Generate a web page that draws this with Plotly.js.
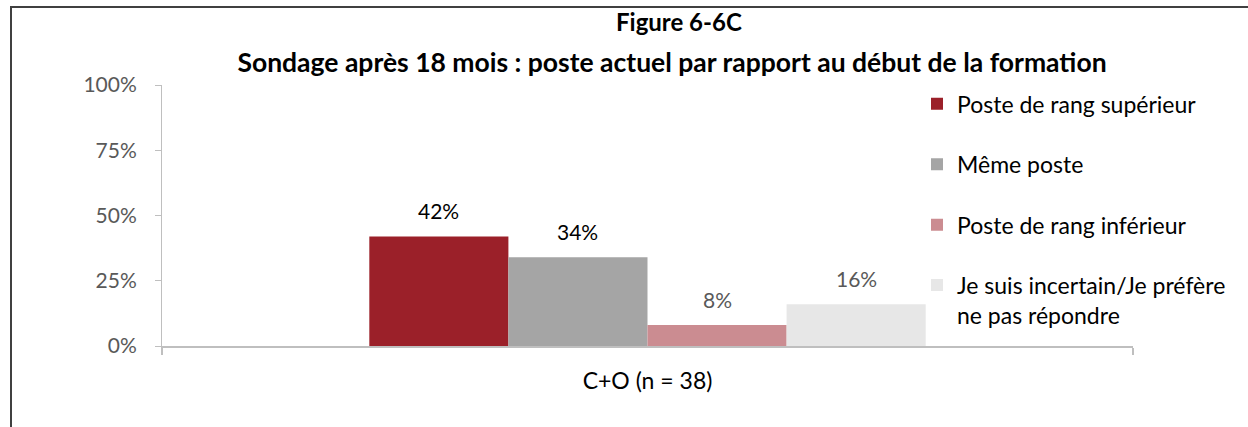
<!DOCTYPE html>
<html>
<head>
<meta charset="utf-8">
<script src="https://cdn.plot.ly/plotly-3.0.1.min.js"></script>
<style>
  html, body { margin: 0; padding: 0; background: #fff; }
  #wrap { position: relative; width: 1248px; height: 427px; overflow: hidden; }
  #chart { width: 1248px; height: 427px; }
  #frame { position: absolute; left: 10px; top: 6px; width: 1300px; height: 500px;
           border-left: 2px solid #404040; border-top: 2px solid #404040; pointer-events: none; }
</style>
</head>
<body>
<div id="wrap">
  <div id="chart"></div>
  <div id="frame"></div>
</div>
<script>
const categories = ['C+O (n = 38)'];
const seriesNames = [
  'Poste de rang supérieur',
  'Même poste',
  'Poste de rang inférieur',
  'Je suis incertain/Je préfère<br>ne pas répondre'
];
const seriesValues = [0.42, 0.34, 0.08, 0.16];
const seriesColors = ['#9B2029', '#A5A5A5', '#CB8C91', '#E7E7E7'];
const labelColors = ['#000000', '#000000', '#595959', '#595959'];
const yTickVals = [0, 0.25, 0.5, 0.75, 1];
const yTickText = ['0%', '25%', '50%', '75%', '100%'];
const titleLine1 = 'Figure 6-6C';
const titleLine2 = 'Sondage après 18 mois : poste actuel par rapport au début de la formation';

const FONT = 'Lato, "Open Sans", sans-serif';

const MARGIN = { l: 162, r: 115, t: 85, b: 81 };
const W = 1248, H = 427;
const BARGAP = 0.427;
const plotW = W - MARGIN.l - MARGIN.r;
const plotH = H - MARGIN.t - MARGIN.b;
const nSeries = seriesValues.length;
const barPx = plotW / categories.length * (1 - BARGAP) / nSeries;

const traces = seriesNames.map((name, i) => ({
  type: 'bar',
  name: name,
  x: categories,
  y: [seriesValues[i]],
  marker: { color: seriesColors[i] },
  legendgroup: 'g' + i,
  hoverinfo: 'none'
}));

// data labels placed above each bar, derived from the data arrays
const labelAnnotations = seriesValues.map((v, i) => ({
  text: Math.round(v * 100) + '%',
  xref: 'x', yref: 'y',
  x: categories[0], y: v,
  xshift: (i - (nSeries - 1) / 2) * barPx,
  yshift: 26,
  xanchor: 'center', yanchor: 'middle',
  showarrow: false,
  font: { family: FONT, size: 21, color: labelColors[i] }
}));

const layout = {
  width: W,
  height: H,
  paper_bgcolor: '#ffffff',
  plot_bgcolor: '#ffffff',
  font: { family: FONT, size: 18, color: '#595959' },
  margin: { l: MARGIN.l, r: MARGIN.r, t: MARGIN.t, b: MARGIN.b, pad: 0 },
  barmode: 'group',
  bargap: BARGAP,
  bargroupgap: 0,
  title: {
    text: titleLine2,
    font: { family: FONT, size: 26.5, color: '#000000', weight: 'bold' },
    xref: 'container', x: 672 / W, xanchor: 'center',
    yref: 'container', y: 1 - 63 / H, yanchor: 'middle'
  },
  annotations: [{
    text: titleLine1,
    xref: 'paper', yref: 'paper',
    x: (679 - MARGIN.l) / plotW, y: 1 + (MARGIN.t - 22) / plotH,
    xanchor: 'center', yanchor: 'middle',
    showarrow: false,
    font: { family: FONT, size: 24, color: '#000000', weight: 'bold' }
  }].concat(labelAnnotations),
  xaxis: {
    type: 'category',
    showline: true, linecolor: '#BFBFBF', linewidth: 2,
    ticks: 'outside', tickson: 'boundaries', ticklen: 7, tickcolor: '#BFBFBF', tickwidth: 2,
    tickfont: { family: FONT, size: 23, color: '#000000' },
    ticklabelstandoff: 13,
    showgrid: false, zeroline: false,
    fixedrange: true
  },
  yaxis: {
    range: [0, 1],
    tickvals: yTickVals,
    ticktext: yTickText,
    showline: true, linecolor: '#BFBFBF', linewidth: 1,
    ticks: 'outside', ticklen: 6, tickcolor: '#BFBFBF',
    tickfont: { family: FONT, size: 21, color: '#595959' },
    ticklabelstandoff: 14,
    showgrid: false, zeroline: false,
    fixedrange: true
  },
  showlegend: true,
  legend: {
    x: (917 - MARGIN.l) / plotW, xanchor: 'left',
    y: 1.01, yanchor: 'top',
    maxheight: 1000,
    bgcolor: 'rgba(0,0,0,0)',
    font: { family: FONT, size: 23, color: '#000000' },
    traceorder: 'grouped',
    tracegroupgap: 27.5,
    valign: 'top',
    itemclick: false, itemdoubleclick: false
  }
};

Plotly.newPlot('chart', traces, layout, { displayModeBar: false, staticPlot: true });
</script>
</body>
</html>
